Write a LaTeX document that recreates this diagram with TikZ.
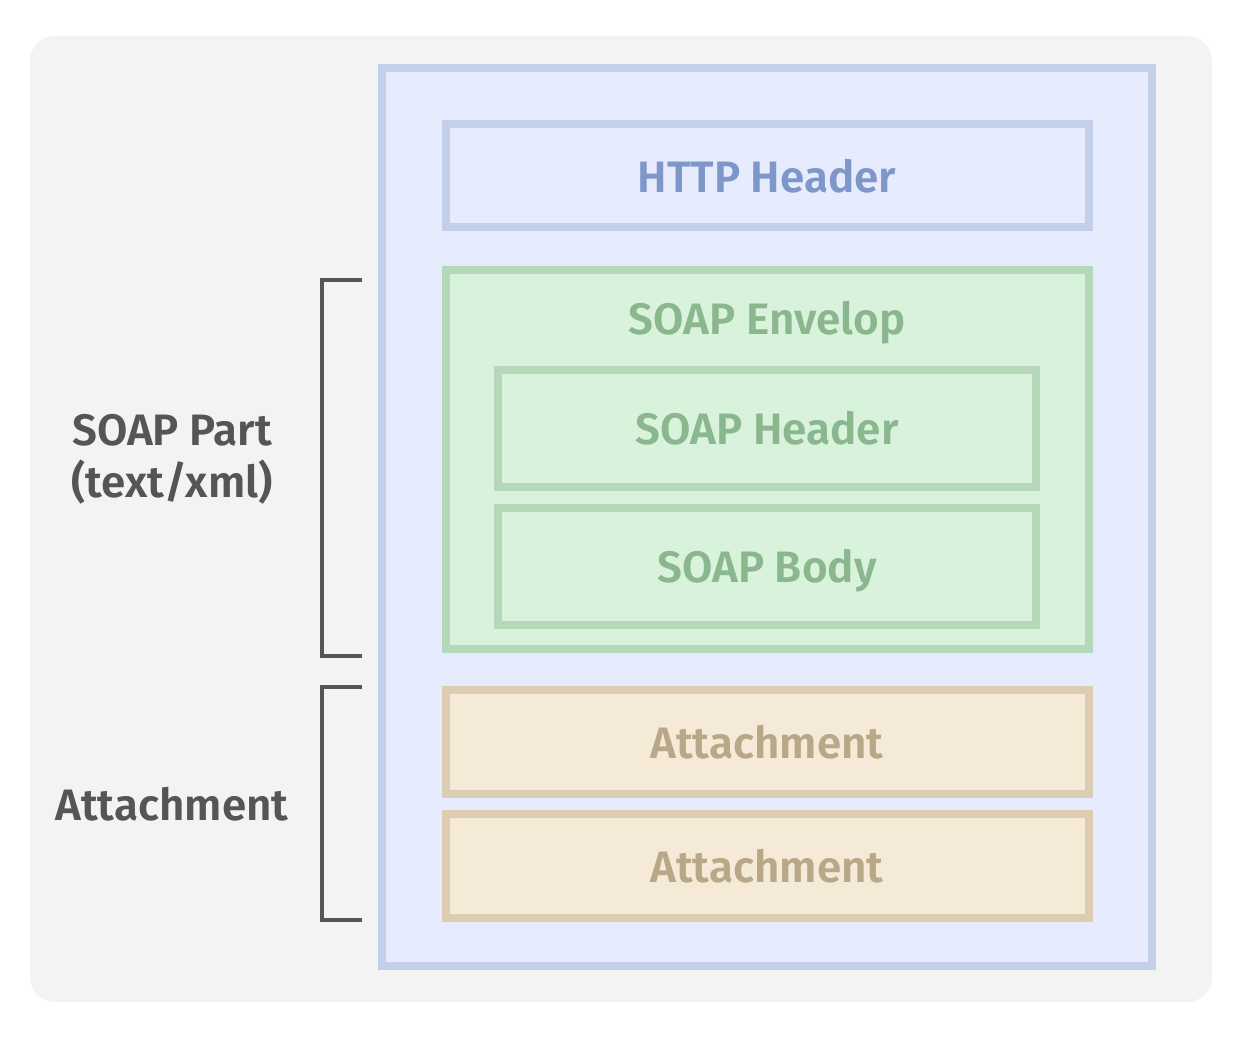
\documentclass[tikz,border=0pt]{standalone}
\usepackage{fontspec}
\setmainfont{Fira Sans}[BoldFont={* SemiBold}]
\definecolor{bgc}{HTML}{F3F3F3}
\definecolor{bfill}{HTML}{E6ECFD}
\definecolor{bline}{HTML}{C3D0EC}
\definecolor{btext}{HTML}{7F97C8}
\definecolor{gfill}{HTML}{D9F2DC}
\definecolor{gline}{HTML}{B5D8B9}
\definecolor{gtext}{HTML}{8BB78F}
\definecolor{tfill}{HTML}{F5EAD7}
\definecolor{tline}{HTML}{DCCDB0}
\definecolor{ttext}{HTML}{B8A888}
\definecolor{dark}{HTML}{555555}
\begin{document}
\begin{tikzpicture}[x=1pt,y=-1pt,
  boxb/.style={draw=bline,fill=bfill,line width=8pt},
  boxg/.style={draw=gline,fill=gfill,line width=8pt},
  boxt/.style={draw=tline,fill=tfill,line width=8pt},
  lbl/.style={anchor=base,inner sep=0pt,font=\bfseries\fontsize{44}{52}\selectfont},
  side/.style={lbl,text=dark,align=center},
  brk/.style={draw=dark,line width=4pt}]
\useasboundingbox (0,0) rectangle (1254,1038);
\fill[white] (0,0) rectangle (1254,1038);
\fill[bgc,rounded corners=25pt] (30,36) rectangle (1212,1002);
\draw[boxb] (382,68) rectangle (1152,966);
\draw[boxb] (446,124) rectangle (1089,227);
\node[lbl,text=btext] (http) at (767,192.5) {HTTP Header};
\draw[boxg] (446,270) rectangle (1089,649);
\node[lbl,text=gtext] (env) at (767,334.5) {SOAP Envelop};
\draw[boxg] (498,370) rectangle (1036,487);
\node[lbl,text=gtext] (sh) at (767,444.5) {SOAP Header};
\draw[boxg] (498,508) rectangle (1036,625);
\node[lbl,text=gtext] (sb) at (767,582.5) {SOAP Body};
\draw[boxt] (446,690) rectangle (1089,794);
\node[lbl,text=ttext] (a1) at (767,758.5) {Attachment};
\draw[boxt] (446,814) rectangle (1089,918);
\node[lbl,text=ttext] (a2) at (767,882.5) {Attachment};
\coordinate (b1a) at (362,280);
\coordinate (b1b) at (362,656);
\coordinate (b2a) at (362,687);
\coordinate (b2b) at (362,920);
\draw[brk] (b1a) -- (322,280) -- (322,656) -- (b1b);
\draw[brk] (b2a) -- (322,687) -- (322,920) -- (b2b);
\node[side] (sp) at (172,497.5) {SOAP Part\\(text/xml)};
\node[side] (at) at (172,820.5) {Attachment};
\end{tikzpicture}
\end{document}
